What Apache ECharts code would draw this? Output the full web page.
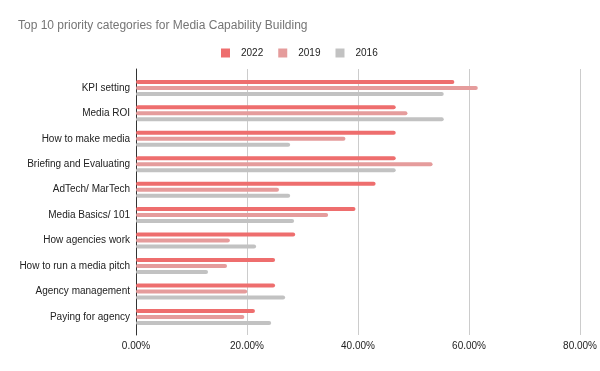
<!DOCTYPE html>
<html>
<head>
<meta charset="utf-8">
<script src="https://cdn.jsdelivr.net/npm/echarts@6/dist/echarts.min.js"></script>
<style>html,body{margin:0;padding:0;background:#fff}#c{width:600px;height:371px}</style>
</head>
<body>
<div id="c"></div>
<script>
const categories = ["KPI setting","Media ROI","How to make media","Briefing and Evaluating","AdTech/ MarTech","Media Basics/ 101","How agencies work","How to run a media pitch","Agency management","Paying for agency"];
const values2022 = [57.0, 46.5, 46.5, 46.5, 42.9, 39.3, 28.5, 24.9, 24.9, 21.3];
const values2019 = [61.2, 48.6, 37.5, 53.1, 25.6, 34.4, 16.8, 16.3, 19.9, 19.4];
const values2016 = [55.1, 55.1, 27.6, 46.5, 27.6, 28.3, 21.5, 12.9, 26.7, 24.2];
const xTicks = [0, 20, 40, 60, 80];

const chart = echarts.init(document.getElementById('c'), null, {renderer: 'canvas'});
const font = 'Arial, "Liberation Sans", sans-serif';
const mkSeries = (name, data, color) => ({
  name, type: 'bar', data, xAxisIndex: 0, yAxisIndex: 0,
  barWidth: 4, barGap: '50%',
  itemStyle: {color, borderRadius: 2},
  emphasis: {disabled: true}
});
chart.setOption({
  animation: false,
  backgroundColor: '#fff',
  title: {
    text: 'Top 10 priority categories for Media Capability Building',
    left: 18, top: 20, padding: 0,
    textStyle: {fontFamily: font, fontSize: 12, fontWeight: 'normal', color: '#757575'}
  },
  legend: {
    left: 221, top: 48, padding: 0,
    itemWidth: 9, itemHeight: 9, itemGap: 15,
    icon: 'rect',
    textStyle: {fontFamily: font, fontSize: 10, color: '#222', padding: [0, 0, 0, 6]},
    data: ['2022', '2019', '2016']
  },
  grid: [
    {left: 136, width: 446.8, top: 75.2, height: 254.4, containLabel: false},
    {left: 136, width: 446.8, top: 69, height: 266, containLabel: false}
  ],
  xAxis: [
    {gridIndex: 0, type: 'value', min: xTicks[0], max: xTicks[xTicks.length - 1], show: false},
    {gridIndex: 1, type: 'value', min: xTicks[0], max: xTicks[xTicks.length - 1], interval: 20,
     axisLine: {show: false}, axisTick: {show: false},
     splitLine: {show: true, lineStyle: {color: '#cccccc', width: 1}},
     axisLabel: {margin: 6, fontFamily: font, fontSize: 10, color: '#222',
       formatter: v => v.toFixed(2) + '%'}}
  ],
  yAxis: [
    {gridIndex: 0, type: 'category', data: categories, inverse: true,
     axisLine: {show: false}, axisTick: {show: false}, splitLine: {show: false},
     axisLabel: {margin: 6, fontFamily: font, fontSize: 10, color: '#222'}},
    {gridIndex: 1, type: 'value', min: 0, max: 1,
     axisLine: {show: true, onZero: false, lineStyle: {color: '#333', width: 1}},
     axisTick: {show: false}, axisLabel: {show: false}, splitLine: {show: false}}
  ],
  series: [
    mkSeries('2022', values2022, '#ee6e6e'),
    mkSeries('2019', values2019, '#e59c9c'),
    mkSeries('2016', values2016, '#c2c2c2')
  ]
});
</script>
</body>
</html>
